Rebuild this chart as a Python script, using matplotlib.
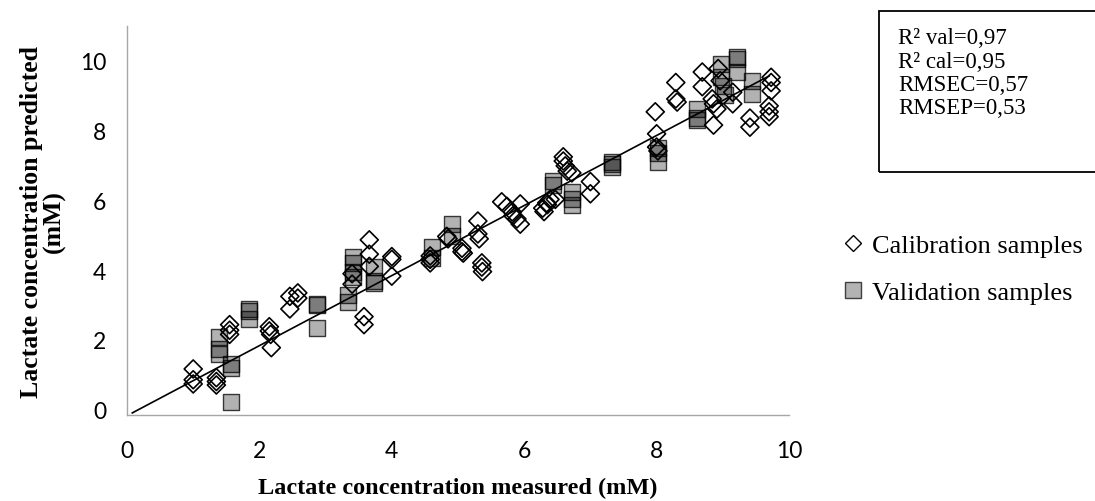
import numpy as np
import matplotlib
matplotlib.use("Agg")
import matplotlib.pyplot as plt
from matplotlib.lines import Line2D
from matplotlib.patches import Rectangle

# Calibration samples: measured vs predicted lactate (mM)
cal_measured = [
    1.00, 1.00, 1.00,
    1.35, 1.35, 1.35,
    1.55, 1.55, 1.55,
    2.15, 2.15, 2.17, 2.18,
    2.46, 2.46, 2.58, 2.58,
    3.40, 3.40,
    3.58, 3.58,
    3.66, 3.66, 3.66,
    4.00, 4.00, 4.00,
    4.58, 4.58, 4.58,
    4.83, 4.85,
    5.06, 5.06, 5.08,
    5.30, 5.30, 5.32,
    5.36, 5.36, 5.37,
    5.66, 5.74, 5.82, 5.83, 5.89, 5.94, 5.94,
    6.28, 6.30, 6.34, 6.35, 6.39, 6.47,
    6.59, 6.59, 6.62, 6.65, 6.72,
    7.00, 7.00,
    7.98, 8.00, 8.00, 8.02,
    8.29, 8.29, 8.31,
    8.69, 8.69,
    8.84, 8.86, 8.86, 8.91, 8.93, 8.96,
    9.15, 9.15,
    9.41, 9.41,
    9.73, 9.73, 9.73, 9.70, 9.70, 9.70,
]
cal_predicted = [
    1.17, 0.86, 0.74,
    0.92, 0.81, 0.71,
    2.44, 2.28, 2.16,
    2.38, 2.26, 2.16, 1.78,
    3.25, 2.89, 3.35, 3.20,
    3.90, 3.60,
    2.67, 2.44,
    4.87, 4.46, 4.11,
    4.39, 4.31, 3.83,
    4.41, 4.31, 4.21,
    4.97, 4.90,
    4.63, 4.53, 4.49,
    5.41, 5.04, 4.90,
    4.21, 4.09, 3.96,
    5.96, 5.83, 5.67, 5.56, 5.47, 5.90, 5.32,
    5.78, 5.68, 5.93, 5.88, 6.03, 6.03,
    7.25, 7.13, 6.99, 6.84, 6.79,
    6.54, 6.19,
    8.54, 7.91, 7.53, 7.42,
    9.38, 8.91, 8.82,
    9.68, 9.26,
    8.91, 8.77, 8.16, 8.62, 9.78, 9.43,
    9.10, 8.77,
    8.36, 8.10,
    9.53, 9.38, 9.14, 8.71, 8.54, 8.40,
]

# Validation samples: measured vs predicted lactate (mM)
val_measured = [
    1.39, 1.39, 1.39,
    1.57, 1.57, 1.57,
    1.85, 1.85, 1.85,
    2.87, 2.87, 2.87,
    3.34, 3.34,
    3.42, 3.42, 3.42, 3.42,
    3.73, 3.73, 3.73,
    4.60, 4.60,
    4.91, 4.91,
    6.43, 6.43,
    6.72, 6.72, 6.72,
    7.33, 7.33, 7.33,
    8.02, 8.02, 8.02,
    8.61, 8.61, 8.61,
    8.97, 8.97, 9.00, 9.03,
    9.21, 9.21, 9.21,
    9.44, 9.44,
]
val_predicted = [
    2.08, 1.73, 1.59,
    1.32, 1.20, 0.23,
    2.89, 2.84, 2.59,
    3.03, 2.99, 2.34,
    3.30, 3.09,
    4.38, 4.21, 3.96, 3.80,
    4.10, 3.70, 3.62,
    4.67, 4.36,
    5.32, 4.98,
    6.56, 6.44,
    6.24, 6.03, 5.88,
    7.10, 7.05, 6.95,
    7.50, 7.35, 7.10,
    8.62, 8.36, 8.31,
    9.92, 9.54, 9.28, 9.02,
    10.11, 10.04, 9.68,
    9.42, 9.05,
]

# Linear trend of predicted vs measured
fit_slope = 1.004
fit_intercept = -0.17
fit_range = [0.08, 9.70]

x_ticks = [0, 2, 4, 6, 8, 10]
y_ticks = [0, 2, 4, 6, 8, 10]

stats_lines = ["R² val=0,97", "R² cal=0,95", "RMSEC=0,57", "RMSEP=0,53"]
legend_labels = ["Calibration samples", "Validation samples"]
x_label = "Lactate concentration measured (mM)"
y_label = "Lactate concentration predicted\n(mM)"

W, H = 1095, 502
fig = plt.figure(figsize=(W / 100, H / 100), dpi=100)


def fx(px):
    return px / W


def fy(py):
    return 1 - py / H


ax = fig.add_axes([fx(127), fy(416), fx(789) - fx(127), fy(27) - fy(416)])
ax.set_xlim(0, 10)
ax.set_ylim(-0.15, 11.0)
ax.set_xticks(x_ticks)
ax.set_yticks(y_ticks)
tick_font = dict(family="Lato", size=16.5)
ax.set_xticklabels([str(t) for t in x_ticks], **tick_font)
ax.set_yticklabels([str(t) for t in y_ticks], **tick_font)
ax.tick_params(length=0)
ax.tick_params(axis="x", pad=18)
ax.tick_params(axis="y", pad=15)
for s in ("top", "right"):
    ax.spines[s].set_visible(False)
for s in ("left", "bottom"):
    ax.spines[s].set_color("#a6a6a6")
    ax.spines[s].set_linewidth(1.0)

# squares drawn semi-transparent so that overlaps darken
ax.scatter(val_measured, val_predicted, marker="s", s=140,
           facecolors=(0, 0, 0, 0.30), edgecolors=(0, 0, 0, 0.75),
           linewidths=1.0, zorder=3)
ax.scatter(cal_measured, cal_predicted, marker="D", s=84,
           facecolors="none", edgecolors="black", linewidths=1.2, zorder=4)

xf = np.array(fit_range)
ax.plot(xf, fit_slope * xf + fit_intercept, color="black", lw=1.2, zorder=5)

fig.text(fx(458), fy(488), x_label, ha="center", va="center",
         family="Liberation Serif", weight="bold", size=17.5)
fig.text(fx(43), fy(222), y_label, ha="center", va="center", rotation=90,
         linespacing=0.95, family="Liberation Serif", weight="bold", size=18.5)

handles = [
    Line2D([], [], ls="none", marker="D", ms=8, mfc="white", mec="black", mew=1.0),
    Line2D([], [], ls="none", marker="s", ms=11, mfc="#b3b3b3", mec="#404040", mew=1.0),
]
fig.legend(handles, legend_labels, loc="center left",
           bbox_to_anchor=(fx(840), fy(270)), frameon=False,
           prop=dict(family="Liberation Serif", size=19),
           handletextpad=0.2, handlelength=1.0, labelspacing=0.9,
           borderaxespad=0, borderpad=0)

fig.patches.append(Rectangle((fx(879), fy(173)), fx(1100) - fx(879), fy(12) - fy(173),
                             transform=fig.transFigure, fill=False,
                             edgecolor="black", linewidth=1.3, clip_on=False))
for i, line in enumerate(stats_lines):
    fig.text(fx(898), fy(39 + 23.3 * i), line, ha="left", va="center",
             family="Liberation Serif", size=16.5)

fig.savefig("out.png", dpi=100)
